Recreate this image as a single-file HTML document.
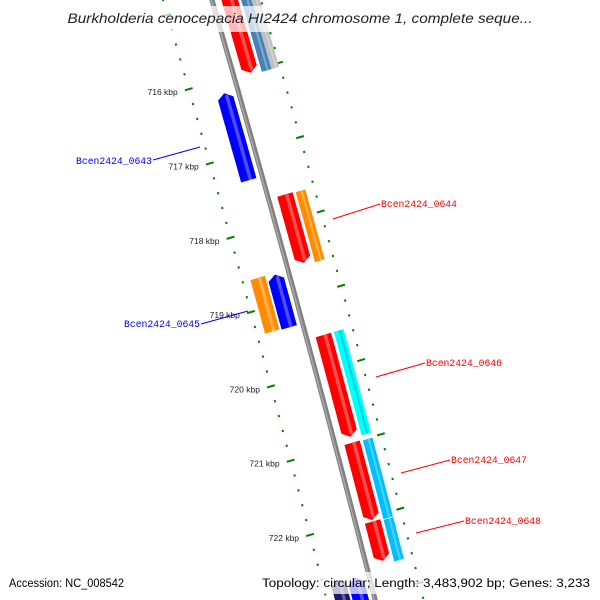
<!DOCTYPE html>
<html><head><meta charset="utf-8"><style>
html,body{margin:0;padding:0;background:#fff;width:600px;height:600px;overflow:hidden;}
svg{display:block;overflow:hidden;}
</style></head><body>
<svg id="chart" width="600" height="600" viewBox="0 0 600 600" xmlns="http://www.w3.org/2000/svg">
<g id="ruler"></g>
<path id="backbone" fill="none" stroke="#808080" stroke-width="5"/>
<path id="backbone-hi" fill="none" stroke="#a8a8a8" stroke-width="1.5"/>
<g id="features"></g>
<g id="labels"></g>
<rect x="0" y="6" width="600" height="26" fill="#fff" fill-opacity="0.72"/>
<text x="300" y="23" text-anchor="middle" font-family="Liberation Sans, sans-serif" font-style="italic" font-size="14" fill="#222" textLength="465" lengthAdjust="spacingAndGlyphs">Burkholderia cenocepacia HI2424 chromosome 1, complete seque...</text>
<rect x="0" y="572" width="600" height="22" fill="#fff" fill-opacity="0.72"/>
<text x="9" y="587" font-family="Liberation Sans, sans-serif" font-size="11.5" fill="#000" textLength="115" lengthAdjust="spacingAndGlyphs">Accession: NC_008542</text>
<text x="590" y="587" text-anchor="end" font-family="Liberation Sans, sans-serif" font-size="11.5" fill="#000" textLength="328" lengthAdjust="spacingAndGlyphs">Topology: circular; Length: 3,483,902 bp; Genes: 3,233</text>
</svg>
<script>
const NS="http://www.w3.org/2000/svg";
// data
const tickKbp=[716,717,718,719,720,721,722];
const featName=["f-top-red","f-top-steel","f-top-silver","Bcen2424_0643","Bcen2424_0644","f-0644-orange","f-0645-orange","Bcen2424_0645","Bcen2424_0646","f-0646-cyan","Bcen2424_0647","f-0647-blue","Bcen2424_0648","f-0648-blue","f-bottom-navy","f-bottom-blue"];
const featStart=[714.9,714.95,714.95,716.18,717.66,717.67,718.60,718.62,719.55,719.55,721.00,721.01,722.06,722.08,722.66,722.70];
const featEnd=[716.02,716.05,716.05,717.35,718.58,718.61,719.32,719.33,720.92,720.94,722.04,722.07,722.59,722.64,723.6,723.6];
const featLane=["R1","R2","R3","L1","R1","R2","L2","L1","R1","R2","R1","R2","R1","R2","L2","L1"];
const featDir=[1,0,0,-1,1,0,0,-1,1,0,1,0,1,0,-1,-1];
const featColor=["#ff0000","#4682b4","#c0c0c0","#0000ff","#ff0000","#ff8c00","#ff8c00","#0000ff","#ff0000","#00ffff","#ff0000","#00bfff","#ff0000","#00bfff","#191970","#0000ff"];
const labelText=["Bcen2424_0643","Bcen2424_0644","Bcen2424_0645","Bcen2424_0646","Bcen2424_0647","Bcen2424_0648"];
const labelColor=["#0000ff","#ff0000","#0000ff","#ff0000","#ff0000","#ff0000"];

// geometry
const lanes={R1:[9,25],R2:[28,38],R3:[38,46],L1:[-22,-6],L2:[-39,-24]};
function yc(k){return 76+(k-716)*74.3;}
function xb(y){return 212+0.29*y-0.00003*y*y;}
function P(k,o){const y=yc(k);return [xb(y)+o*0.96,y-0.28*o];}
function poly(pts){return pts.map(p=>p[0].toFixed(1)+","+p[1].toFixed(1)).join(" ");}

const bb=[],bh=[];
for(let y=-10;y<=610;y+=10){bb.push((bb.length?"L":"M")+xb(y).toFixed(1)+","+y);bh.push((bh.length?"L":"M")+(xb(y)-0.7).toFixed(1)+","+y);}
document.getElementById("backbone").setAttribute("d",bb.join(""));
document.getElementById("backbone-hi").setAttribute("d",bh.join(""));

// ruler
const ruler=document.getElementById("ruler");
for(let k=714.8;k<=723.61;k+=0.2){
  const kk=Math.round(k*10)/10;
  const major=Math.abs(kk-Math.round(kk))<0.01;
  [-47,47].forEach(o=>{
    const el=document.createElementNS(NS,"line");
    const a=P(kk,o-(major?4:1)),b=P(kk,o+(major?4:1));
    el.setAttribute("x1",a[0]);el.setAttribute("y1",a[1]);el.setAttribute("x2",b[0]);el.setAttribute("y2",b[1]);
    el.setAttribute("stroke","#008000");el.setAttribute("stroke-width",major?2:2.2);
    
    
    ruler.appendChild(el);
  });
}
tickKbp.forEach(k=>{
  const p=P(k,-47);
  const t=document.createElementNS(NS,"text");
  t.setAttribute("x",p[0]-11);t.setAttribute("y",p[1]+6);
  t.setAttribute("text-anchor","end");t.setAttribute("font-family","Liberation Sans, sans-serif");
  t.setAttribute("font-size","8.5");t.setAttribute("fill","#222");
  t.textContent=k+" kbp";
  
  
  ruler.appendChild(t);
});

// features
const fg=document.getElementById("features");
function shade(c,f){const n=parseInt(c.slice(1),16);let r=n>>16,g=(n>>8)&255,b=n&255;
  const m=v=>Math.max(0,Math.min(255,Math.round(f>0?v+(255-v)*f:v*(1+f))));return "rgb("+m(r)+","+m(g)+","+m(b)+")";}
function featPoly(s,e,o1,o2,dir){
  const head=0.07;const pts=[],back=[];
  let bs=s,be=e;if(dir===1)be=e-head;if(dir===-1)bs=s+head;
  const n=12;
  for(let i=0;i<=n;i++){const k=bs+(be-bs)*i/n;pts.push(P(k,o1));back.unshift(P(k,o2));}
  const res=[];
  if(dir===-1)res.push(P(s,(o1+o2)/2));
  res.push(...pts);
  if(dir===1)res.push(P(e,(o1+o2)/2));
  res.push(...back);
  return res;
}
featStart.forEach((s,i)=>{
  const L=lanes[featLane[i]];const e=featEnd[i];
  const g=document.createElementNS(NS,"g");
  
  
  const p=document.createElementNS(NS,"polygon");
  p.setAttribute("points",poly(featPoly(s,e,L[0],L[1],featDir[i])));
  p.setAttribute("fill",featColor[i]);
  
  
  g.appendChild(p);
  const w=L[1]-L[0];
  const hl=document.createElementNS(NS,"polygon");
  const a=L[0]+w*0.5,b=L[0]+w*0.72;
  hl.setAttribute("points",poly(featPoly(s+(featDir[i]===-1?0.03:0),e-(featDir[i]===1?0.03:0),a,b,0)));
  hl.setAttribute("fill",featColor[i]==="#00ffff"?"#00d8d8":shade(featColor[i],0.3));
  
  
  g.appendChild(hl);
  fg.appendChild(g);
});

// labels
const lg=document.getElementById("labels");
const labelX=[76,381,124,426,451,465],labelY=[164,207,327,366,463,524];
const lineA=[[153,160],[333,219],[201,324],[376,377],[401,473],[416,533]];
const lineB=[[200,147],[380,204],[248,311],[425,363],[450,460],[464,521]];
labelText.forEach((t,i)=>{
  const ln=document.createElementNS(NS,"line");
  ln.setAttribute("x1",lineA[i][0]);ln.setAttribute("y1",lineA[i][1]);ln.setAttribute("x2",lineB[i][0]);ln.setAttribute("y2",lineB[i][1]);
  ln.setAttribute("stroke",labelColor[i]);ln.setAttribute("stroke-width","1");
  
  
  lg.appendChild(ln);
  const tx=document.createElementNS(NS,"text");
  tx.setAttribute("x",labelX[i]);tx.setAttribute("y",labelY[i]);
  tx.setAttribute("font-family","Liberation Mono, monospace");tx.setAttribute("font-size","10");
  tx.setAttribute("fill",labelColor[i]);tx.setAttribute("textLength","76");tx.setAttribute("lengthAdjust","spacingAndGlyphs");
  tx.textContent=t;
  
  
  lg.appendChild(tx);
});
</script>
</body></html>
